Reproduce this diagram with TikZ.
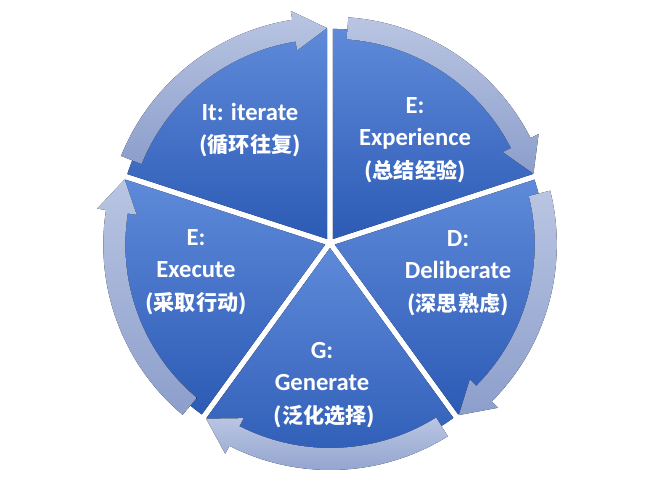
\documentclass[tikz,border=0pt]{standalone}
\usepackage{fontspec}
\setmainfont{Carlito}[BoldFont={Carlito Bold}]
\newfontfamily\cjk{Noto Sans CJK SC Bold}
\usetikzlibrary{positioning}

\definecolor{segtop}{HTML}{5F8ADA}
\definecolor{segbot}{HTML}{2C5BB5}
\definecolor{ringtop}{HTML}{B9C5E2}
\definecolor{ringbot}{HTML}{8C9ECB}

\begin{document}
\begin{tikzpicture}[
    x=0.03cm, y=0.03cm,
    sector/.style={top color=segtop, bottom color=segbot, draw=none},
    ring/.style={top color=ringtop, bottom color=ringbot, draw=none},
    label/.style={text=white, font=\bfseries\fontsize{21}{28}\selectfont, align=center}
  ]
  \useasboundingbox (0,0) rectangle (658,490);

  % pie sectors, slightly pulled apart
  \begin{scope}[shift={(330,247)}]
    \foreach \a/\b in {162/90, 90/18, 18/-54, -54/-126, -126/-198} {
        \pgfmathsetmacro{\mid}{(\a+\b)/2}
        \fill[sector, shift={(\mid:5)}] (0,0) -- (\a:210) arc (\a:\b:210) -- cycle;
      }

    % ring arrows (clockwise)
    \foreach \a/\b in {158/90, 86/18, 14/-54, -58/-126, -130/-198} {
        \pgfmathsetmacro{\h}{\b+9}
        \pgfmathsetmacro{\mid}{(\a+\b)/2+4}
        \fill[ring, shift={(\mid:5)}] (\a:222) arc (\a:\h:222) -- (\h:231) -- (\b:211)
          -- (\h:191) -- (\h:200) arc (\h:\a:200) -- cycle;
      }
  \end{scope}

  % labels
  \node[label] (iter) at (250,360) {It: iterate\\{\cjk\fontsize{18}{28}\selectfont (循环往复)}};
  \node[label] (expe) at (415,350) {E:\\Experience\\{\cjk\fontsize{18}{28}\selectfont (总结经验)}};
  \node[label] (deli) at (458,217) {D:\\Deliberate\\{\cjk\fontsize{18}{28}\selectfont (深思熟虑)}};
  \node[label] (gene) at (322,105) {G:\\Generate\\{\cjk\fontsize{18}{28}\selectfont\ (泛化选择)}};
  \node[label] (exec) at (196,218) {E:\\Execute\\{\cjk\fontsize{18}{28}\selectfont (采取行动)}};
\end{tikzpicture}
\end{document}
